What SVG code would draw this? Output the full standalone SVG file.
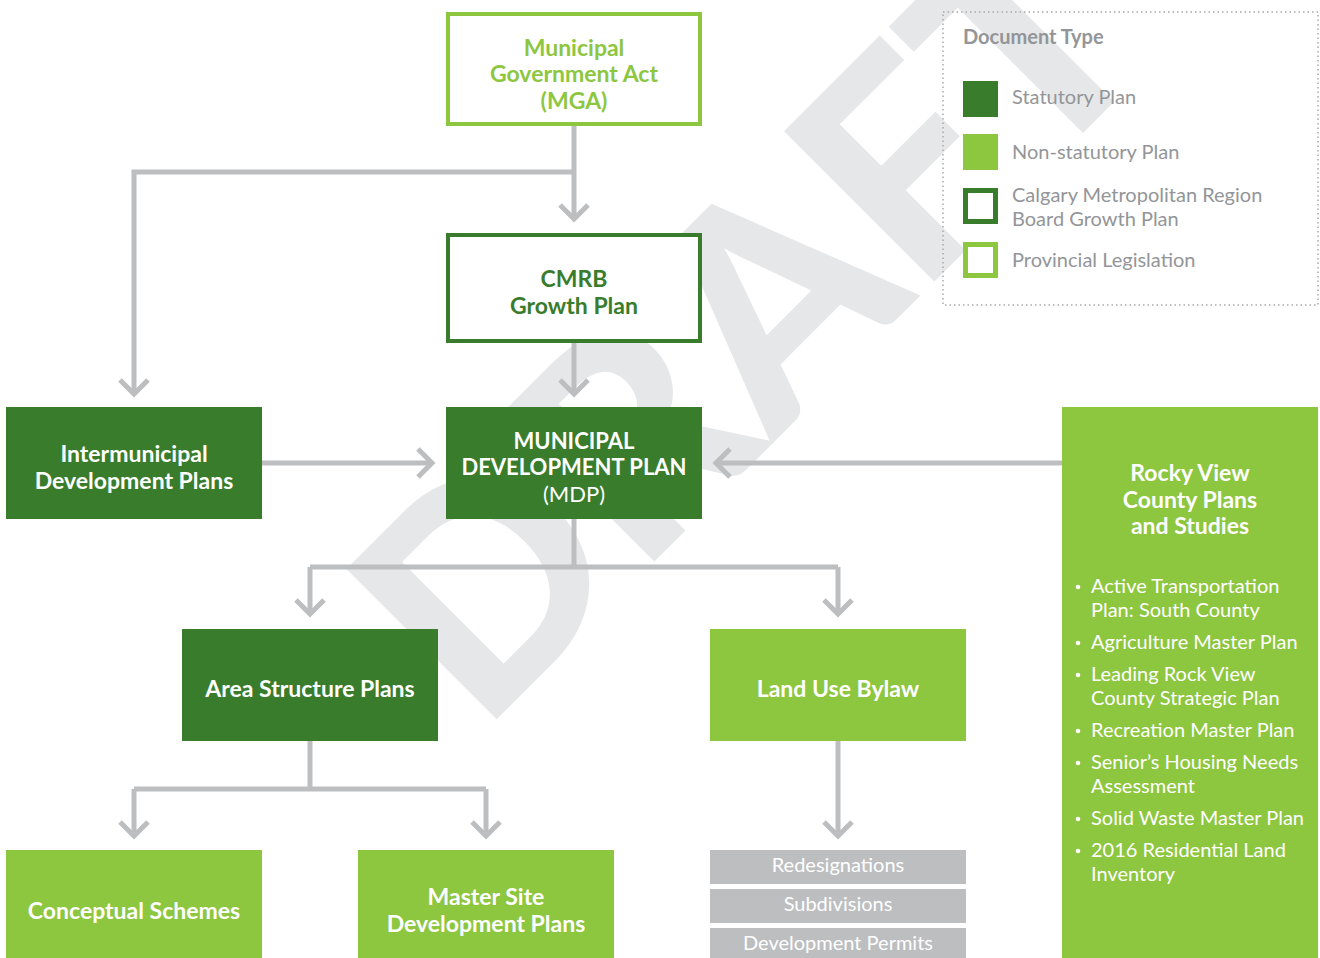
<svg xmlns="http://www.w3.org/2000/svg" width="1320" height="958" viewBox="0 0 1320 958">
<defs>
<style>
.t{font-family:"Source Sans Pro",Lato,"Noto Sans",sans-serif;text-anchor:middle}
.b{font-weight:700}
.w{fill:#ffffff}
.dg{fill:#387c2c}
.lg{fill:#8dc63f}
.lt{font-family:"Source Sans Pro",Lato,"Noto Sans",sans-serif;fill:#939598;font-size:20px}
.c{fill:none;stroke:#bcbec0;stroke-width:5}
.bl{font-family:"Source Sans Pro",Lato,"Noto Sans",sans-serif;fill:#ffffff;font-size:20px}
</style>
<marker id="ah" markerUnits="userSpaceOnUse" markerWidth="40" markerHeight="40" viewBox="-20 -20 40 40" refX="0" refY="0" orient="auto">
<path d="M-14,-14 L0,0 L-14,14" fill="none" stroke="#bcbec0" stroke-width="5"/>
</marker>
</defs>
<rect width="1320" height="958" fill="#ffffff"/>
<g id="watermark">
<text transform="translate(481,735) rotate(-45)" font-family="Lato,'Noto Sans',sans-serif" font-weight="900" font-size="293" fill="#e6e7e8">DRAFT</text>
</g>
<g id="connectors">
<path class="c" d="M574,126 V219" marker-end="url(#ah)"/>
<path class="c" d="M574,172 H134 V394" marker-end="url(#ah)"/>
<path class="c" d="M574,343 V394" marker-end="url(#ah)"/>
<path class="c" d="M262,463 H432" marker-end="url(#ah)"/>
<path class="c" d="M1062,463 H716" marker-end="url(#ah)"/>
<path class="c" d="M574,519 V567"/>
<path class="c" d="M310,567 H838"/>
<path class="c" d="M310,567 V614" marker-end="url(#ah)"/>
<path class="c" d="M838,567 V614" marker-end="url(#ah)"/>
<path class="c" d="M310,741 V789"/>
<path class="c" d="M134,789 H486"/>
<path class="c" d="M134,789 V836" marker-end="url(#ah)"/>
<path class="c" d="M486,789 V836" marker-end="url(#ah)"/>
<path class="c" d="M838,741 V836" marker-end="url(#ah)"/>
</g>
<g id="mga">
<rect x="448" y="14" width="252" height="110" fill="#ffffff" stroke="#8dc63f" stroke-width="4"/>
<text class="t b lg" font-size="23"><tspan x="574" y="56">Municipal</tspan><tspan x="574" y="82">Government Act</tspan><tspan x="574" y="109">(MGA)</tspan></text>
</g>
<g id="cmrb">
<rect x="448" y="235" width="252" height="106" fill="#ffffff" stroke="#387c2c" stroke-width="4"/>
<text class="t b dg" font-size="23"><tspan x="574" y="287">CMRB</tspan><tspan x="574" y="314">Growth Plan</tspan></text>
</g>
<g id="mdp">
<rect x="446" y="407" width="256" height="112" fill="#387c2c"/>
<text class="t b w" font-size="22"><tspan x="574" y="449">MUNICIPAL</tspan><tspan x="574" y="475">DEVELOPMENT PLAN</tspan></text>
<text class="t w" font-size="22" x="574" y="502">(MDP)</text>
</g>
<g id="idp">
<rect x="6" y="407" width="256" height="112" fill="#387c2c"/>
<text class="t b w" font-size="23"><tspan x="134" y="462">Intermunicipal</tspan><tspan x="134" y="489">Development Plans</tspan></text>
</g>
<g id="asp">
<rect x="182" y="629" width="256" height="112" fill="#387c2c"/>
<text class="t b w" font-size="23" x="310" y="697">Area Structure Plans</text>
</g>
<g id="lub">
<rect x="710" y="629" width="256" height="112" fill="#8dc63f"/>
<text class="t b w" font-size="23" x="838" y="697">Land Use Bylaw</text>
</g>
<g id="cs">
<rect x="6" y="850" width="256" height="108" fill="#8dc63f"/>
<text class="t b w" font-size="23" x="134" y="919">Conceptual Schemes</text>
</g>
<g id="msdp">
<rect x="358" y="850" width="256" height="108" fill="#8dc63f"/>
<text class="t b w" font-size="23"><tspan x="486" y="905">Master Site</tspan><tspan x="486" y="932">Development Plans</tspan></text>
</g>
<g id="redesignations">
<rect x="710" y="850" width="256" height="34" fill="#bcbec0"/>
<text class="t w" font-size="20" x="838" y="872">Redesignations</text>
</g>
<g id="subdivisions">
<rect x="710" y="889" width="256" height="34" fill="#bcbec0"/>
<text class="t w" font-size="20" x="838" y="911">Subdivisions</text>
</g>
<g id="permits">
<rect x="710" y="928" width="256" height="30" fill="#bcbec0"/>
<text class="t w" font-size="20" x="838" y="950">Development Permits</text>
</g>
<g id="rockyview">
<rect x="1062" y="407" width="256" height="551" fill="#8dc63f"/>
<text class="t b w" font-size="23"><tspan x="1190" y="481">Rocky View</tspan><tspan x="1190" y="508">County Plans</tspan><tspan x="1190" y="534">and Studies</tspan></text>
<g fill="#ffffff">
<circle cx="1078" cy="587" r="2.3"/>
<circle cx="1078" cy="643" r="2.3"/>
<circle cx="1078" cy="675" r="2.3"/>
<circle cx="1078" cy="731" r="2.3"/>
<circle cx="1078" cy="763" r="2.3"/>
<circle cx="1078" cy="819" r="2.3"/>
<circle cx="1078" cy="851" r="2.3"/>
</g>
<text class="bl"><tspan x="1091" y="593">Active Transportation</tspan><tspan x="1091" y="617">Plan: South County</tspan><tspan x="1091" y="649">Agriculture Master Plan</tspan><tspan x="1091" y="681">Leading Rock View</tspan><tspan x="1091" y="705">County Strategic Plan</tspan><tspan x="1091" y="737">Recreation Master Plan</tspan><tspan x="1091" y="769">Senior’s Housing Needs</tspan><tspan x="1091" y="793">Assessment</tspan><tspan x="1091" y="825">Solid Waste Master Plan</tspan><tspan x="1091" y="857">2016 Residential Land</tspan><tspan x="1091" y="881">Inventory</tspan></text>
</g>
<g id="legend">
<rect x="943" y="12" width="375" height="293" fill="none" stroke="#a7a9ac" stroke-width="1.5" stroke-dasharray="1.5 3"/>
<text class="lt" font-weight="700" font-size="21" x="963" y="44">Document Type</text>
<rect x="963" y="81" width="35" height="36" fill="#387c2c"/>
<text class="lt" x="1012" y="104">Statutory Plan</text>
<rect x="963" y="134" width="35" height="36" fill="#8dc63f"/>
<text class="lt" x="1012" y="159">Non-statutory Plan</text>
<rect x="965.5" y="190.5" width="30" height="31" fill="#ffffff" stroke="#387c2c" stroke-width="5"/>
<text class="lt"><tspan x="1012" y="202">Calgary Metropolitan Region</tspan><tspan x="1012" y="226">Board Growth Plan</tspan></text>
<rect x="965.5" y="244.5" width="30" height="31" fill="#ffffff" stroke="#8dc63f" stroke-width="5"/>
<text class="lt" x="1012" y="267">Provincial Legislation</text>
</g>
</svg>
